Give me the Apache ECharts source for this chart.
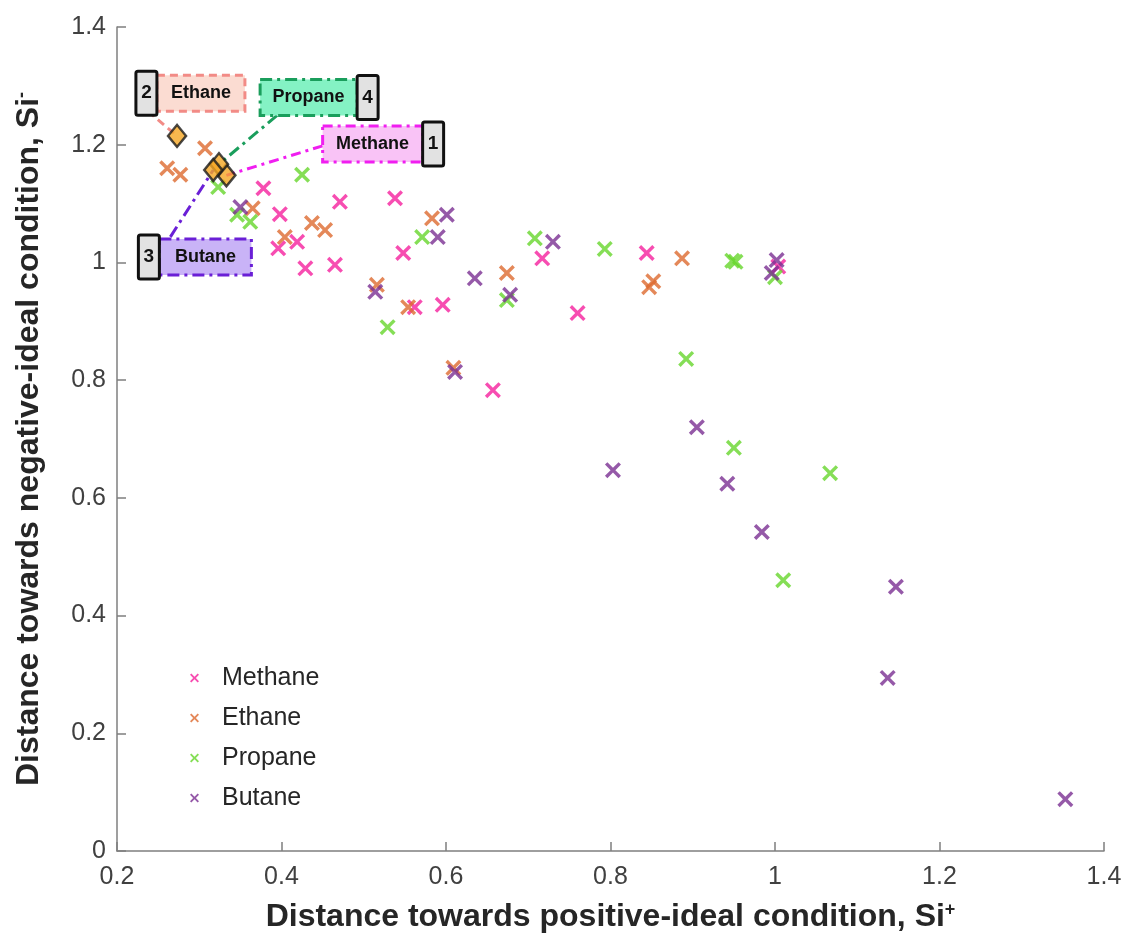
<!DOCTYPE html>
<html>
<head>
<meta charset="utf-8">
<script src="https://cdn.jsdelivr.net/npm/echarts@6/dist/echarts.min.js"></script>
<style>
  html, body { margin: 0; padding: 0; background: #fff; }
  #chart { width: 1129px; height: 943px; }
</style>
</head>
<body>
<div id="chart"></div>
<script>
// ---- data ----
const xTicks = [0.2, 0.4, 0.6, 0.8, 1, 1.2, 1.4];
const yTicks = [0, 0.2, 0.4, 0.6, 0.8, 1, 1.2, 1.4];

const seriesNames = ["Methane", "Ethane", "Propane", "Butane"];

const methaneX = [0.378, 0.398, 0.419, 0.396, 0.429, 0.471, 0.465, 0.538, 0.548, 0.562, 0.596, 0.657, 0.717, 0.760, 0.844, 1.004];
const methaneY = [1.126, 1.082, 1.035, 1.024, 0.990, 1.103, 0.996, 1.109, 1.016, 0.924, 0.928, 0.783, 1.007, 0.914, 1.016, 0.993];

const ethaneX = [0.307, 0.261, 0.277, 0.365, 0.404, 0.437, 0.453, 0.583, 0.516, 0.554, 0.674, 0.609, 0.847, 0.852, 0.887];
const ethaneY = [1.194, 1.160, 1.149, 1.092, 1.043, 1.067, 1.055, 1.075, 0.962, 0.924, 0.982, 0.821, 0.958, 0.968, 1.007];

const propaneX = [0.425, 0.323, 0.346, 0.362, 0.571, 0.529, 0.708, 0.793, 0.674, 0.948, 0.952, 1.000, 0.892, 0.950, 1.067, 1.010];
const propaneY = [1.149, 1.128, 1.081, 1.069, 1.043, 0.890, 1.041, 1.023, 0.936, 1.003, 1.001, 0.975, 0.836, 0.685, 0.642, 0.460];

const butaneX = [0.350, 0.601, 0.590, 0.514, 0.635, 0.678, 0.730, 0.611, 1.002, 0.996, 0.905, 0.942, 0.984, 1.147, 1.137, 1.353, 0.803];
const butaneY = [1.094, 1.081, 1.043, 0.950, 0.973, 0.945, 1.035, 0.814, 1.004, 0.982, 0.720, 0.624, 0.542, 0.449, 0.294, 0.088, 0.647];

// best condition of each gas (diamonds) and its rank
const bestX = [0.333, 0.273, 0.324, 0.317];
const bestY = [1.148, 1.215, 1.167, 1.157];
const bestRank = ["1", "2", "4", "3"];

// ---- styles ----
const colors = ["#f5219e", "#dd6a2f", "#66d62c", "#7a2f92"];
const FONT = "'Liberation Sans', Arial, sans-serif";
// filled X shape
const xMark = "path://M0,1.5L1.5,0L5,3.5L8.5,0L10,1.5L6.5,5L10,8.5L8.5,10L5,6.5L1.5,10L0,8.5L3.5,5Z";

// callout boxes: where each sits (top-left, data units) and how it looks
const callouts = [
  { at: [0.450, 1.232], w: 100, numRight: true,  fill: "#f9c3f6", stroke: "#f01ef0", dash: [10, 5, 3, 5], lead: [0, 20] },
  { at: [0.223, 1.318], w: 88,  numRight: false, fill: "#fbdcd2", stroke: "#f28b86", dash: [8, 5],        lead: [12, 36] },
  { at: [0.374, 1.311], w: 97,  numRight: true,  fill: "#84f2c4", stroke: "#1a9e5c", dash: [12, 5, 3, 5], lead: [17, 36] },
  { at: [0.226, 1.040], w: 92,  numRight: false, fill: "#c9b3f7", stroke: "#6a1fd6", dash: [12, 5, 3, 5], lead: [32, -2] }
];

function pts(xs, ys) { return xs.map((x, i) => [x, ys[i]]); }

let chart = echarts.init(document.getElementById("chart"));

let axisCommon = {
    type: "value",
    interval: 0.2,
    axisLine: { show: true, lineStyle: { color: "#7f7f7f", width: 1.5 } },
    axisTick: { show: true, inside: true, length: 9, lineStyle: { color: "#7f7f7f", width: 1.5 } },
    splitLine: { show: false },
    axisLabel: { color: "#404040", fontSize: 25, fontFamily: FONT },
    nameLocation: "middle",
    nameTextStyle: {
        rich: {
            t: { fontSize: 32, fontWeight: "bold", fontFamily: FONT, color: "#262626" },
            s: { fontSize: 18, fontWeight: "bold", fontFamily: FONT, color: "#262626", verticalAlign: "top", padding: [0, 0, 14, 0] }
        }
    }
};

let series = [pts(methaneX, methaneY), pts(ethaneX, ethaneY), pts(propaneX, propaneY), pts(butaneX, butaneY)]
    .map((d, i) => ({
        name: seriesNames[i],
        type: "scatter",
        data: d,
        symbol: xMark,
        symbolSize: 16,
        itemStyle: { color: colors[i] },
        z: 3
    }));

series.push({
    name: "best",
    type: "scatter",
    data: pts(bestX, bestY),
    symbol: "diamond",
    symbolSize: [18, 22],
    itemStyle: { color: "#f5a623", borderColor: "#1a1a1a", borderWidth: 2.5 },
    z: 10
});

chart.setOption({
    animation: false,
    backgroundColor: "#fff",
    grid: { left: 117, right: 25, top: 27, bottom: 92 },
    xAxis: Object.assign({}, axisCommon, {
        min: xTicks[0], max: xTicks[xTicks.length - 1],
        axisLabel: Object.assign({}, axisCommon.axisLabel, { margin: 14 }),
        name: "{t|Distance towards positive-ideal condition, Si}{s|+}",
        nameGap: 50
    }),
    yAxis: Object.assign({}, axisCommon, {
        min: yTicks[0], max: yTicks[yTicks.length - 1],
        axisLabel: Object.assign({}, axisCommon.axisLabel, { margin: 11 }),
        name: "{t|Distance towards negative-ideal condition, Si}{s|-}",
        nameGap: 72
    }),
    legend: {
        data: seriesNames,
        orient: "vertical",
        left: 185,
        top: 660,
        itemWidth: 9,
        itemHeight: 9,
        itemGap: 14,
        textStyle: { fontSize: 25, lineHeight: 26, color: "#262626", fontFamily: FONT, padding: [0, 0, 0, 18] }
    },
    series: series
});

// ---- callouts, placed from data coordinates ----
let graphics = [];
callouts.forEach((c, i) => {
    let p = chart.convertToPixel({ gridIndex: 0 }, c.at);
    let target = chart.convertToPixel({ gridIndex: 0 }, [bestX[i], bestY[i]]);
    let h = 36, nw = 21;
    let labelX = c.numRight ? p[0] : p[0] + nw;
    let numX = c.numRight ? p[0] + c.w : p[0];

    graphics.push({
        type: "line", z: 5,
        shape: { x1: p[0] + c.lead[0], y1: p[1] + c.lead[1], x2: target[0], y2: target[1] },
        style: { stroke: c.stroke, lineWidth: 3, lineDash: c.dash }
    });
    graphics.push({
        type: "rect", z: 6,
        shape: { x: labelX, y: p[1], width: c.w, height: h },
        style: { fill: c.fill, stroke: c.stroke, lineWidth: 3, lineDash: c.dash }
    });
    graphics.push({
        type: "text", z: 7,
        style: {
            text: seriesNames[i], x: labelX + c.w / 2, y: p[1] + h / 2,
            textAlign: "center", textVerticalAlign: "middle", align: "center", verticalAlign: "middle",
            font: "bold 18px " + FONT, fill: "#111"
        }
    });
    graphics.push({
        type: "rect", z: 8,
        shape: { x: numX, y: p[1] - 4, width: nw, height: h + 8, r: 2 },
        style: { fill: "#e2e2e2", stroke: "#111", lineWidth: 3 }
    });
    graphics.push({
        type: "text", z: 9,
        style: {
            text: bestRank[i], x: numX + nw / 2, y: p[1] + h / 2,
            textAlign: "center", textVerticalAlign: "middle", align: "center", verticalAlign: "middle",
            font: "bold 19px " + FONT, fill: "#111"
        }
    });
});
chart.setOption({ graphic: graphics });
</script>
</body>
</html>
